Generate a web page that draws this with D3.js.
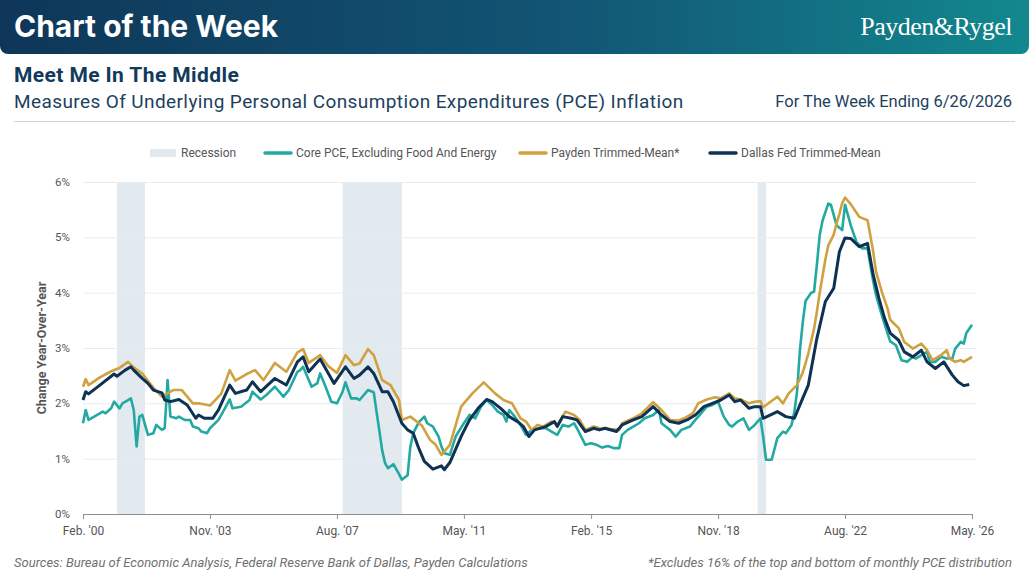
<!DOCTYPE html>
<html>
<head>
<meta charset="utf-8">
<script src="https://cdn.jsdelivr.net/npm/d3@7"></script>
<style>
  body { margin: 0; background: #fff; }
  svg { display: block; font-family: Roboto, "Noto Sans", sans-serif; }
</style>
</head>
<body>
<div id="chart"></div>
<script>
// recession periods (NBER), start / end month
const recessions = [["2001-02", "2001-12"], ["2007-10", "2009-07"], ["2020-01", "2020-04"]];

// x tick months and labels
const xTicks = ["2000-02", "2003-11", "2007-08", "2011-05", "2015-02", "2018-11", "2022-08", "2026-05"];
const xTickLabels = ["Feb. '00", "Nov. '03", "Aug. '07", "May. '11", "Feb. '15", "Nov. '18", "Aug. '22", "May. '26"];
const yTicks = [0, 1, 2, 3, 4, 5, 6];

// Core PCE, excluding food and energy (% y/y)
const corePce = [["2000-02",1.64],["2000-03",1.88],["2000-04",1.70],["2000-06",1.76],["2000-09",1.85],["2000-10",1.82],["2000-12",1.91],["2001-01",2.03],["2001-03",1.91],["2001-04",2.00],["2001-06",2.06],["2001-07",2.09],["2001-08",1.88],["2001-09",1.22],["2001-10",1.76],["2001-11",1.79],["2002-01",1.43],["2002-03",1.46],["2002-04",1.61],["2002-06",1.52],["2002-07",1.55],["2002-08",2.42],["2002-09",1.76],["2002-11",1.73],["2002-12",1.76],["2003-02",1.70],["2003-04",1.70],["2003-05",1.58],["2003-07",1.55],["2003-08",1.49],["2003-10",1.46],["2003-11",1.55],["2004-02",1.70],["2004-04",1.88],["2004-06",2.07],["2004-07",1.91],["2004-10",1.94],["2005-01",2.06],["2005-02",2.21],["2005-05",2.07],["2005-07",2.15],["2005-10",2.30],["2006-01",2.12],["2006-03",2.24],["2006-06",2.57],["2006-07",2.60],["2006-08",2.66],["2006-11",2.30],["2007-01",2.36],["2007-02",2.54],["2007-04",2.30],["2007-06",2.03],["2007-08",2.00],["2007-10",2.21],["2007-11",2.38],["2008-01",2.09],["2008-03",2.09],["2008-04",2.06],["2008-07",2.24],["2008-09",2.20],["2008-10",1.85],["2008-11",1.50],["2008-12",1.15],["2009-01",0.92],["2009-02",0.83],["2009-04",0.90],["2009-06",0.72],["2009-07",0.62],["2009-09",0.70],["2009-10",1.22],["2009-11",1.46],["2010-01",1.66],["2010-03",1.76],["2010-04",1.64],["2010-06",1.58],["2010-08",1.40],["2010-09",1.22],["2010-10",1.10],["2010-12",1.07],["2011-02",1.40],["2011-05",1.64],["2011-07",1.79],["2011-09",1.73],["2011-11",1.94],["2012-01",2.06],["2012-03",1.97],["2012-05",1.85],["2012-07",1.79],["2012-08",1.67],["2012-09",1.88],["2012-11",1.76],["2013-01",1.61],["2013-03",1.43],["2013-05",1.52],["2013-08",1.55],["2013-10",1.55],["2013-12",1.49],["2014-02",1.43],["2014-04",1.61],["2014-06",1.58],["2014-08",1.64],["2014-09",1.55],["2014-12",1.25],["2015-02",1.28],["2015-04",1.25],["2015-06",1.20],["2015-08",1.23],["2015-10",1.19],["2015-12",1.19],["2016-01",1.43],["2016-03",1.52],["2016-05",1.58],["2016-07",1.64],["2016-09",1.73],["2016-12",1.79],["2017-02",1.88],["2017-03",1.64],["2017-06",1.52],["2017-08",1.40],["2017-10",1.52],["2018-01",1.58],["2018-03",1.70],["2018-05",1.82],["2018-07",1.94],["2018-09",1.97],["2018-11",2.03],["2019-01",1.76],["2019-03",1.61],["2019-04",1.58],["2019-06",1.67],["2019-08",1.73],["2019-10",1.52],["2019-12",1.61],["2020-02",1.73],["2020-03",1.40],["2020-04",0.98],["2020-06",0.98],["2020-08",1.37],["2020-10",1.49],["2020-11",1.46],["2021-01",1.61],["2021-02",1.85],["2021-03",2.20],["2021-04",2.95],["2021-05",3.45],["2021-06",3.85],["2021-08",4.00],["2021-09",4.02],["2021-10",4.50],["2021-11",5.04],["2021-12",5.30],["2022-02",5.61],["2022-03",5.59],["2022-05",5.22],["2022-07",5.13],["2022-08",5.59],["2022-10",5.22],["2022-12",4.92],["2023-02",4.80],["2023-04",4.80],["2023-05",4.50],["2023-06",4.20],["2023-07",3.96],["2023-09",3.60],["2023-11",3.27],["2023-12",3.12],["2024-02",3.05],["2024-04",2.78],["2024-06",2.75],["2024-08",2.84],["2024-09",2.81],["2024-11",2.87],["2025-01",2.93],["2025-02",2.75],["2025-04",2.75],["2025-06",2.84],["2025-08",2.81],["2025-10",2.81],["2025-11",2.99],["2026-01",3.11],["2026-02",3.08],["2026-03",3.27],["2026-05",3.42]];

// Payden trimmed-mean (% y/y)
const paydenTrimmed = [["2000-02",2.30],["2000-03",2.44],["2000-04",2.33],["2000-08",2.47],["2000-12",2.58],["2001-03",2.64],["2001-06",2.75],["2001-08",2.65],["2001-11",2.54],["2002-03",2.28],["2002-06",2.12],["2002-10",2.24],["2003-01",2.24],["2003-05",2.00],["2003-07",2.00],["2003-11",1.96],["2004-03",2.17],["2004-06",2.60],["2004-08",2.41],["2004-12",2.53],["2005-03",2.60],["2005-06",2.42],["2005-10",2.73],["2006-02",2.57],["2006-06",2.92],["2006-08",2.98],["2006-10",2.73],["2007-02",2.87],["2007-05",2.67],["2007-08",2.55],["2007-11",2.87],["2008-02",2.69],["2008-04",2.72],["2008-07",2.98],["2008-09",2.87],["2008-12",2.42],["2009-03",2.33],["2009-06",2.06],["2009-07",1.70],["2009-10",1.76],["2010-02",1.60],["2010-05",1.34],["2010-07",1.25],["2010-09",1.07],["2010-12",1.25],["2011-04",1.94],["2011-08",2.18],["2011-12",2.38],["2012-04",2.18],["2012-07",2.06],["2012-10",2.00],["2013-01",1.73],["2013-03",1.67],["2013-05",1.52],["2013-07",1.61],["2013-09",1.58],["2013-12",1.67],["2014-02",1.61],["2014-05",1.85],["2014-08",1.79],["2014-10",1.70],["2014-12",1.52],["2015-03",1.58],["2015-05",1.55],["2015-12",1.52],["2016-01",1.64],["2016-05",1.73],["2016-08",1.82],["2016-12",2.02],["2017-03",1.88],["2017-06",1.70],["2017-09",1.69],["2017-11",1.73],["2018-02",1.82],["2018-04",2.00],["2018-07",2.07],["2018-10",2.11],["2018-12",2.09],["2019-03",2.18],["2019-05",2.09],["2019-07",2.07],["2019-10",2.00],["2019-12",2.03],["2020-02",2.04],["2020-03",1.93],["2020-08",2.12],["2020-10",2.00],["2020-12",2.18],["2021-03",2.33],["2021-05",2.55],["2021-07",2.90],["2021-09",3.35],["2021-10",3.65],["2021-11",4.00],["2022-01",4.60],["2022-02",4.85],["2022-04",5.05],["2022-05",5.25],["2022-06",5.42],["2022-07",5.62],["2022-08",5.72],["2022-10",5.60],["2022-12",5.45],["2023-01",5.37],["2023-04",5.31],["2023-06",4.74],["2023-07",4.38],["2023-09",4.02],["2023-11",3.72],["2023-12",3.51],["2024-03",3.36],["2024-05",3.11],["2024-08",2.99],["2024-11",3.08],["2025-01",2.96],["2025-03",2.78],["2025-06",2.87],["2025-08",2.96],["2025-09",2.81],["2025-11",2.75],["2026-01",2.78],["2026-02",2.75],["2026-05",2.84]];

// Dallas Fed trimmed-mean (% y/y)
const dallasTrimmed = [["2000-02",2.06],["2000-03",2.21],["2000-04",2.17],["2000-08",2.33],["2001-01",2.53],["2001-02",2.49],["2001-05",2.60],["2001-07",2.66],["2001-08",2.60],["2001-11",2.45],["2002-01",2.36],["2002-03",2.24],["2002-06",2.19],["2002-07",2.06],["2002-09",2.03],["2002-12",2.07],["2003-03",1.97],["2003-06",1.73],["2003-07",1.79],["2003-09",1.73],["2003-12",1.73],["2004-02",1.88],["2004-06",2.33],["2004-08",2.18],["2004-12",2.24],["2005-02",2.39],["2005-05",2.21],["2005-10",2.45],["2006-02",2.33],["2006-06",2.75],["2006-08",2.84],["2006-10",2.57],["2007-02",2.80],["2007-05",2.54],["2007-07",2.36],["2007-11",2.66],["2008-02",2.45],["2008-04",2.51],["2008-07",2.66],["2008-09",2.54],["2008-12",2.21],["2009-02",2.21],["2009-04",2.03],["2009-07",1.64],["2009-09",1.52],["2009-11",1.46],["2010-01",1.18],["2010-03",0.95],["2010-06",0.81],["2010-09",0.87],["2010-10",0.80],["2010-12",0.93],["2011-04",1.40],["2011-07",1.70],["2011-10",1.91],["2012-01",2.07],["2012-03",2.03],["2012-06",1.91],["2012-09",1.76],["2012-12",1.67],["2013-02",1.58],["2013-04",1.40],["2013-06",1.52],["2013-10",1.58],["2014-01",1.67],["2014-02",1.58],["2014-04",1.76],["2014-07",1.73],["2014-09",1.70],["2014-12",1.49],["2015-03",1.55],["2015-05",1.52],["2015-07",1.55],["2015-11",1.49],["2016-01",1.61],["2016-05",1.70],["2016-08",1.76],["2016-12",1.94],["2017-03",1.79],["2017-06",1.67],["2017-09",1.64],["2017-12",1.70],["2018-03",1.79],["2018-06",1.94],["2018-09",2.00],["2018-12",2.06],["2019-03",2.15],["2019-05",2.03],["2019-07",2.06],["2019-10",1.91],["2019-12",1.94],["2020-02",1.94],["2020-03",1.73],["2020-06",1.80],["2020-08",1.85],["2020-11",1.76],["2021-02",1.73],["2021-05",2.09],["2021-07",2.33],["2021-10",3.17],["2022-01",3.84],["2022-04",4.08],["2022-06",4.74],["2022-08",4.99],["2022-10",4.98],["2023-01",4.83],["2023-04",4.89],["2023-06",4.32],["2023-08",3.90],["2023-10",3.54],["2023-12",3.27],["2024-03",3.14],["2024-05",2.93],["2024-08",2.84],["2024-11",2.96],["2025-01",2.75],["2025-04",2.63],["2025-07",2.75],["2025-10",2.51],["2025-12",2.39],["2026-02",2.32],["2026-04",2.34]];

const seriesNames = ["Core PCE, Excluding Food And Energy", "Payden Trimmed-Mean*", "Dallas Fed Trimmed-Mean"];
const seriesColors = ["#22a9a2", "#cfa13f", "#0d3253"];

const W = 1029, H = 573;
const parse = d3.timeParse("%Y-%m");

const svg = d3.select("#chart").append("svg")
    .attr("width", W)
    .attr("height", H);

// header banner
const defs = svg.append("defs");
const grad = defs.append("linearGradient").attr("id", "banner").attr("x1", 0).attr("x2", 1).attr("y1", 0).attr("y2", 0);
grad.append("stop").attr("offset", "0%").attr("stop-color", "#0e3658");
grad.append("stop").attr("offset", "55%").attr("stop-color", "#125574");
grad.append("stop").attr("offset", "100%").attr("stop-color", "#12888e");

svg.append("rect")
    .attr("x", 0).attr("y", -10)
    .attr("width", W).attr("height", 64)
    .attr("rx", 8)
    .attr("fill", "url(#banner)");

svg.append("text")
    .attr("x", 14).attr("y", 37)
    .text("Chart of the Week")
    .style("font-family", "Inter, Lato, sans-serif")
    .style("font-weight", 700)
    .style("font-size", "30px")
    .attr("fill", "#fff");

svg.append("text")
    .attr("x", 1012).attr("y", 35)
    .attr("text-anchor", "end")
    .text("Payden&Rygel")
    .style("font-family", "'Liberation Serif', 'DejaVu Serif', serif")
    .style("font-size", "26px")
    .style("letter-spacing", "-0.5px")
    .attr("fill", "#fff");

// titles
svg.append("text")
    .attr("x", 14).attr("y", 82)
    .text("Meet Me In The Middle")
    .style("font-weight", 700)
    .style("font-size", "21px")
    .style("letter-spacing", "0.4px")
    .attr("fill", "#123a5c");

svg.append("text")
    .attr("x", 14).attr("y", 108)
    .text("Measures Of Underlying Personal Consumption Expenditures (PCE) Inflation")
    .style("font-size", "19px")
    .style("letter-spacing", "0.4px")
    .attr("fill", "#1d3f5e");

svg.append("text")
    .attr("x", 1012).attr("y", 107)
    .attr("text-anchor", "end")
    .text("For The Week Ending 6/26/2026")
    .style("font-size", "16.5px")
    .attr("fill", "#1d3f5e");

svg.append("line")
    .attr("x1", 14).attr("x2", 1015)
    .attr("y1", 121.5).attr("y2", 121.5)
    .attr("stroke", "#c9d4dd");

// scales
const x = d3.scaleTime()
    .domain([parse("2000-02"), parse("2026-05")])
    .range([83, 972]);
const y = d3.scaleLinear().domain([0, 6]).range([514, 182]);

// recession shading
svg.append("g").selectAll("rect")
    .data(recessions)
    .enter().append("rect")
    .attr("x", d => x(parse(d[0])))
    .attr("width", d => x(parse(d[1])) - x(parse(d[0])))
    .attr("y", y(6))
    .attr("height", y(0) - y(6))
    .attr("fill", "#e2e9ef");

// gridlines
svg.append("g").selectAll("line")
    .data(yTicks.filter(d => d > 0))
    .enter().append("line")
    .attr("x1", 83).attr("x2", 976)
    .attr("y1", d => y(d) + 0.5).attr("y2", d => y(d) + 0.5)
    .attr("stroke", "#e7ecf1");

// y axis labels
svg.append("g").selectAll("text")
    .data(yTicks)
    .enter().append("text")
    .attr("x", 70).attr("y", d => y(d) + 4)
    .attr("text-anchor", "end")
    .text(d => d + "%")
    .style("font-size", "11.5px")
    .attr("fill", "#555");

svg.append("text")
    .attr("transform", `translate(46, ${y(3)}) rotate(-90)`)
    .attr("text-anchor", "middle")
    .text("Change Year-Over-Year")
    .style("font-size", "12.5px")
    .style("font-weight", 700)
    .attr("fill", "#555");

// x axis
const xAxis = svg.append("g")
    .attr("transform", `translate(0, ${y(0)})`)
    .call(d3.axisBottom(x)
        .tickValues(xTicks.map(parse))
        .tickSize(5)
        .tickFormat((d, i) => xTickLabels[i]));
xAxis.select(".domain").attr("stroke", "#8a8f94").attr("d", `M83,0.5H972`);
xAxis.selectAll(".tick line").attr("stroke", "#8a8f94");
xAxis.selectAll(".tick text")
    .attr("dy", "1.1em")
    .style("font-family", "Roboto, sans-serif")
    .style("font-size", "12px")
    .attr("fill", "#555");

// lines
const line = d3.line()
    .x(d => x(parse(d[0])))
    .y(d => y(d[1]));

[corePce, paydenTrimmed, dallasTrimmed].forEach((s, i) => {
    svg.append("path")
        .datum(s)
        .attr("d", line)
        .attr("fill", "none")
        .attr("stroke", seriesColors[i])
        .attr("stroke-width", i == 2 ? 3 : 2.6)
        .attr("stroke-linejoin", "round");
});

// legend
const legend = svg.append("g").attr("transform", "translate(0, 153)");
legend.append("rect")
    .attr("x", 150).attr("y", -4).attr("width", 26).attr("height", 8)
    .attr("fill", "#e2e9ef");
legend.append("text").attr("x", 181).attr("y", 4).text("Recession")
    .style("font-size", "12px").attr("fill", "#555");

const legendX = [265, 520, 710];
seriesNames.forEach((n, i) => {
    legend.append("line")
        .attr("x1", legendX[i]).attr("x2", legendX[i] + 26)
        .attr("y1", 0).attr("y2", 0)
        .attr("stroke", seriesColors[i])
        .attr("stroke-width", 3.5)
        .attr("stroke-linecap", "round");
    legend.append("text")
        .attr("x", legendX[i] + 31).attr("y", 4)
        .text(n)
        .style("font-size", "12px")
        .attr("fill", "#555");
});

// footer
svg.append("text")
    .attr("x", 14).attr("y", 567)
    .text("Sources: Bureau of Economic Analysis, Federal Reserve Bank of Dallas, Payden Calculations")
    .style("font-size", "13px")
    .style("font-style", "italic")
    .attr("fill", "#707070");

svg.append("text")
    .attr("x", 1012).attr("y", 567)
    .attr("text-anchor", "end")
    .text("*Excludes 16% of the top and bottom of monthly PCE distribution")
    .style("font-size", "13px")
    .style("font-style", "italic")
    .attr("fill", "#707070");
</script>
</body>
</html>
